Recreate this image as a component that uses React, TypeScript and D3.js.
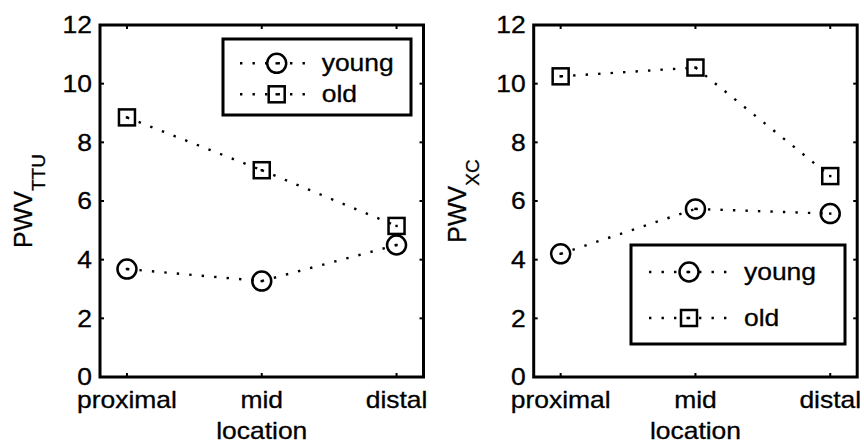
import React from "react";
import * as d3 from "d3";

const categories = ["proximal", "mid", "distal"];
const yTicks = [0, 2, 4, 6, 8, 10, 12];
const ttuYoung = [3.68, 3.27, 4.5];
const ttuOld = [8.85, 7.05, 5.15];
const xcYoung = [4.2, 5.73, 5.57];
const xcOld = [10.25, 10.55, 6.85];
const seriesNames = ["young", "old"];

const W = 864;
const H = 444;
const TOP = 25;
const BOTTOM = 377;
const AXW = 323.5;
const FONT = "'Liberation Sans', Arial, Helvetica, sans-serif";
const SX = 1.15;

function SText({ x, y, anchor = "start", size = 23, children }: any) {
  return (
    <text
      transform={`translate(${x},${y}) scale(${SX},1)`}
      textAnchor={anchor}
      fontSize={size}
      fontFamily={FONT}
      fill="#000"
      stroke="#000"
      strokeWidth={0.3}
    >
      {children}
    </text>
  );
}

function Marker({ kind, cx, cy }: any) {
  return (
    <g>
      {kind === "circle" ? (
        <circle cx={cx} cy={cy} r={9.5} fill="none" stroke="#000" strokeWidth={2.5} />
      ) : (
        <rect x={cx - 8} y={cy - 8} width={16} height={16} fill="none" stroke="#000" strokeWidth={2.5} />
      )}
      <rect x={cx - 1.2} y={cy - 1.2} width={2.4} height={2.4} fill="#000" />
    </g>
  );
}

function Panel({ left, young, old, sub, legend }: any) {
  const x = d3.scalePoint<string>().domain(categories).range([left, left + AXW]).padding(0.2);
  const y = d3.scaleLinear().domain([0, 12]).range([BOTTOM, TOP]);
  const series = [
    { name: seriesNames[0], vals: young, kind: "circle" },
    { name: seriesNames[1], vals: old, kind: "square" },
  ];
  const tl = 4;
  const right = left + AXW;
  return (
    <g>
      {series.map((s) => (
        <g key={s.name}>
          {s.vals.slice(0, -1).map((v: number, i: number) => (
            <line
              key={i}
              x1={x(categories[i])}
              y1={y(v)}
              x2={x(categories[i + 1])}
              y2={y(s.vals[i + 1])}
              stroke="#000"
              strokeWidth={2.4}
              strokeDasharray="2.4 10.1"
            />
          ))}
          {s.vals.map((v: number, i: number) => (
            <Marker key={i} kind={s.kind} cx={x(categories[i])} cy={y(v)} />
          ))}
        </g>
      ))}
      {categories.map((c) => (
        <g key={c}>
          <line x1={x(c)} x2={x(c)} y1={BOTTOM} y2={BOTTOM - tl} stroke="#000" strokeWidth={2} />
          <line x1={x(c)} x2={x(c)} y1={TOP} y2={TOP + tl} stroke="#000" strokeWidth={2} />
          <SText x={x(c)} y={408} anchor="middle">{c}</SText>
        </g>
      ))}
      {yTicks.map((t) => (
        <g key={t}>
          <line x1={left} x2={left + tl} y1={y(t)} y2={y(t)} stroke="#000" strokeWidth={2} />
          <line x1={right} x2={right - tl} y1={y(t)} y2={y(t)} stroke="#000" strokeWidth={2} />
          <SText x={left - 8} y={y(t) + 8.3} anchor="end">{t}</SText>
        </g>
      ))}
      <rect x={left} y={TOP} width={AXW} height={BOTTOM - TOP} fill="none" stroke="#000" strokeWidth={3} />
      <SText x={left + AXW / 2} y={439} anchor="middle">location</SText>
      <text
        transform={`translate(${left - 68},${(TOP + BOTTOM) / 2}) rotate(-90)`}
        textAnchor="middle"
        fontFamily={FONT}
        fontSize={25}
        fill="#000"
        stroke="#000"
        strokeWidth={0.3}
      >
        PWV
        <tspan fontSize={19} dy={13}>{sub}</tspan>
      </text>
      <rect
        x={legend.x}
        y={legend.y}
        width={legend.w}
        height={legend.h}
        fill="#fff"
        stroke="#000"
        strokeWidth={3}
      />
      {series.map((s, i) => {
        const ry = legend.rows[i];
        return (
          <g key={s.name}>
            <line
              x1={legend.l0}
              x2={legend.l1}
              y1={ry}
              y2={ry}
              stroke="#000"
              strokeWidth={2.4}
              strokeDasharray="2.4 10.1"
            />
            <Marker kind={s.kind} cx={legend.m} cy={ry} />
            <SText x={legend.tx} y={ry + 8}>{s.name}</SText>
          </g>
        );
      })}
    </g>
  );
}

export default function App() {
  return (
    <svg width={W} height={H} style={{ position: "absolute", left: 0, top: 0, background: "#fff" }}>
      <rect width={W} height={H} fill="#fff" />
      <Panel
        left={100}
        young={ttuYoung}
        old={ttuOld}
        sub="TTU"
        legend={{ x: 223, y: 39, w: 188, h: 76, rows: [63.3, 94.3], l0: 240, l1: 313, m: 276.7, tx: 321.7 }}
      />
      <Panel
        left={533.7}
        young={xcYoung}
        old={xcOld}
        sub="XC"
        legend={{ x: 631, y: 245, w: 214, h: 99, rows: [272, 318], l0: 649, l1: 732, m: 689, tx: 744 }}
      />
    </svg>
  );
}
